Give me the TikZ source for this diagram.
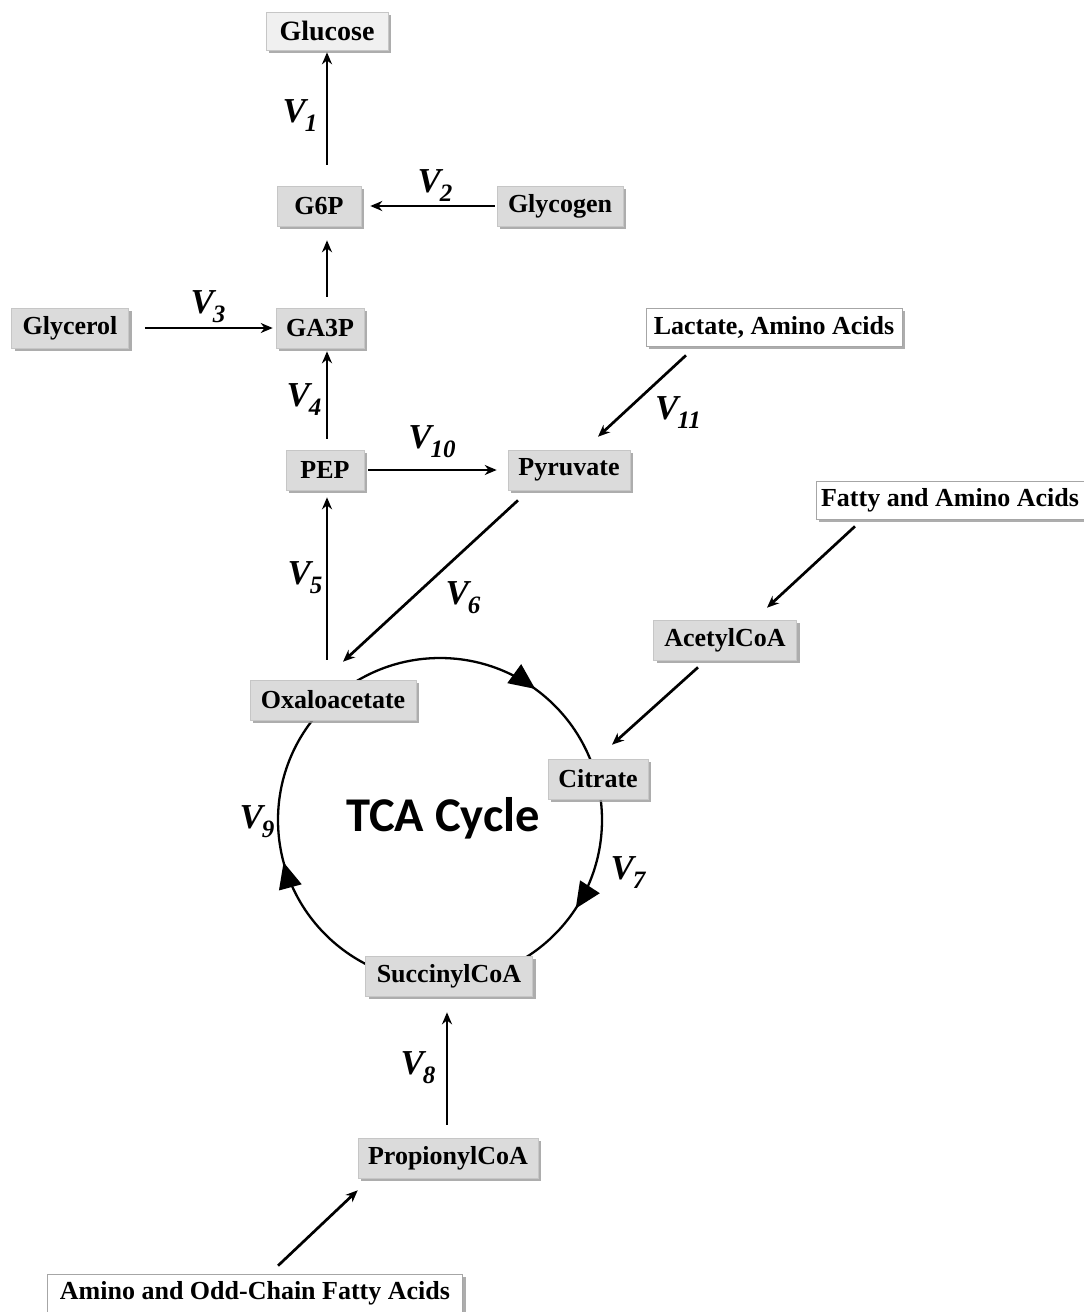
\documentclass[tikz,border=0pt]{standalone}
\usepackage{fontspec}
\setmainfont{Liberation Serif}
\newfontfamily\tcafont{Carlito}
\usetikzlibrary{arrows.meta,shadows,decorations.markings}
\newcommand\vlab[2][-1pt]{V\kern#1\raisebox{-9pt}{\fontsize{25}{25}\selectfont #2}}
\tikzset{
  box/.style={fill=gray!28, draw=gray!45, line width=0.6pt, inner sep=0pt,
    minimum height=40pt, font=\fontsize{26}{30}\selectfont\bfseries,
    drop shadow={shadow xshift=3pt, shadow yshift=-3pt, fill=black!40, opacity=0.8}},
  wbox/.style={box, fill=white, draw=gray!70},
  arr/.style={-{Stealth[length=12pt,width=10pt]}, line width=2.7pt},
  vl/.style={font=\fontsize{35}{35}\selectfont\bfseries\itshape, inner sep=0pt},
}
\begin{document}
\begin{tikzpicture}[x=1pt,y=1pt]
\useasboundingbox (0,0) rectangle (1084,-1312);
% TCA cycle circle
\draw[line width=2.3pt, postaction={decorate},
  decoration={markings,
    mark=at position 0.10 with {\arrow{Triangle[length=26pt,width=23pt]}},
    mark=at position 0.342 with {\arrow{Triangle[length=26pt,width=23pt]}},
    mark=at position 0.708 with {\arrow{Triangle[length=26pt,width=23pt]}}}]
  (440,-658) arc[start angle=90, end angle=-270, radius=162];
\node[font=\tcafont\fontsize{48.5}{48.5}\selectfont\bfseries] (tca) at (443,-818) {TCA Cycle};

% nodes
\node[box, fill=gray!12, minimum width=122pt, minimum height=38pt, font=\fontsize{28}{32}\selectfont\bfseries] (glucose) at (327,-31) {Glucose};
\node[box, minimum width=84pt] (g6p) at (319,-206) {G6P};
\node[box, minimum width=126pt] (glycogen) at (560,-206) {Glycogen};
\node[box, minimum width=117pt] (glycerol) at (70,-328) {Glycerol};
\node[box, minimum width=88pt] (ga3p) at (320,-328) {GA3P};
\node[wbox, minimum width=256pt, minimum height=38pt] (lactate) at (774,-327) {Lactate, Amino Acids};
\node[box, minimum width=78pt] (pep) at (325,-470) {PEP};
\node[box, minimum width=122pt] (pyruvate) at (569,-470) {Pyruvate};
\node[wbox, minimum width=268pt, minimum height=38pt] (fatty) at (950,-500) {Fatty and Amino Acids};
\node[box, minimum width=143pt] (acetyl) at (725,-640) {AcetylCoA};
\node[box, minimum width=166pt] (oxalo) at (333,-700) {Oxaloacetate};
\node[box, minimum width=100pt] (citrate) at (598,-779) {Citrate};
\node[box, minimum width=167pt] (succinyl) at (449,-976) {SuccinylCoA};
\node[box, minimum width=180pt] (propionyl) at (448,-1158) {PropionylCoA};
\node[wbox, minimum width=415pt, minimum height=38pt] (amino) at (255,-1293) {Amino and Odd-Chain Fatty Acids};

% arrows
\draw[arr] ([xshift=8pt,yshift=21pt]g6p.north) -- ([yshift=-2pt]glucose.south);
\draw[arr] ([xshift=-2pt]glycogen.west) -- ([xshift=9pt]g6p.east);
\draw[arr] ([xshift=7pt,yshift=11pt]ga3p.north) -- ([xshift=8pt,yshift=-14pt]g6p.south);
\draw[arr] ([xshift=16pt]glycerol.east) -- ([xshift=-3pt]ga3p.west);
\draw[arr] ([xshift=2pt,yshift=11pt]pep.north) -- ([xshift=7pt,yshift=-3pt]ga3p.south);
\draw[arr] ([xshift=4pt]pep.east) -- ([xshift=-11pt]pyruvate.west);
\draw[arr] ([xshift=-88pt,yshift=-9pt]lactate.south) -- ([xshift=29pt,yshift=13pt]pyruvate.north);
\draw[arr] ([xshift=-51pt,yshift=-10pt]pyruvate.south) -- ([xshift=10pt,yshift=18pt]oxalo.north);
\draw[arr] ([xshift=-6pt,yshift=20pt]oxalo.north) -- ([xshift=2pt,yshift=-7pt]pep.south);
\draw[arr] ([xshift=-95pt,yshift=-7pt]fatty.south) -- ([xshift=42pt,yshift=12pt]acetyl.north);
\draw[arr] ([xshift=-27pt,yshift=-7pt]acetyl.south) -- ([xshift=14pt,yshift=14pt]citrate.north);
\draw[arr] ([xshift=-1pt,yshift=13pt]propionyl.north) -- ([xshift=-2pt,yshift=-16pt]succinyl.south);
\draw[arr] ([xshift=23pt,yshift=8pt]amino.north) -- ([yshift=-12pt]propionyl.south west);

% labels
\node[vl] (v1) at (300,-116) {\vlab{1}};
\node[vl] (v2) at (435,-186) {\vlab{2}};
\node[vl] (v3) at (208,-307) {\vlab{3}};
\node[vl] (v4) at (304,-400) {\vlab{4}};
\node[vl] (v10) at (432,-442) {\vlab{10}};
\node[vl] (v11) at (678,-413) {\vlab{11}};
\node[vl] (v5) at (305,-578) {\vlab{5}};
\node[vl] (v6) at (463,-598) {\vlab{6}};
\node[vl] (v9) at (257,-822) {\vlab{9}};
\node[vl] (v7) at (628,-873) {\vlab{7}};
\node[vl] (v8) at (418,-1068) {\vlab{8}};
\end{tikzpicture}
\end{document}
